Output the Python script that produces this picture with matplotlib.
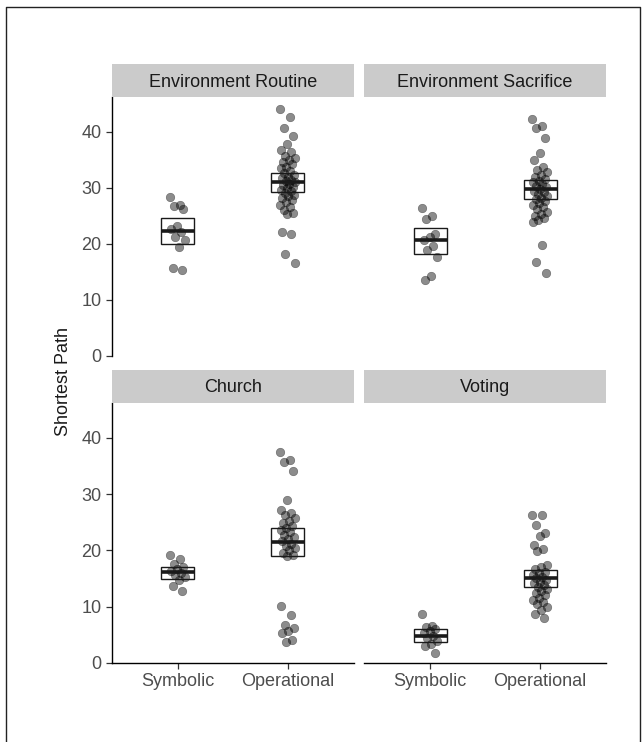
import numpy as np
import matplotlib.pyplot as plt
from matplotlib.patches import Rectangle
from matplotlib.lines import Line2D

plt.rcParams['font.family'] = ['Liberation Sans', 'DejaVu Sans']

panels = ['Environment Routine', 'Environment Sacrifice', 'Church', 'Voting']
conditions = ['Symbolic', 'Operational']
y_ticks = [0, 10, 20, 30, 40]

env_routine_sym = [28.4, 27.0, 26.7, 26.2, 23.3, 22.6, 22.1, 21.3, 20.7, 19.4, 15.8, 15.3]
env_routine_op = [44.1, 42.7, 40.7, 39.2, 37.9, 36.8, 36.5, 35.8, 35.3, 35.0, 34.6, 34.2,
                  33.8, 33.5, 33.0, 32.6, 32.3, 32.0, 31.8, 31.5, 31.2, 31.0, 30.8, 30.5,
                  30.2, 30.0, 29.7, 29.4, 29.1, 28.8, 28.5, 28.2, 27.9, 27.5, 27.0, 26.6,
                  26.0, 25.6, 25.3, 22.2, 21.7, 18.3, 16.6]
env_sacrifice_sym = [26.5, 25.0, 24.5, 21.8, 21.2, 20.8, 19.6, 19.0, 17.7, 14.2, 13.6]
env_sacrifice_op = [42.4, 41.1, 40.7, 39.0, 36.3, 35.0, 33.8, 33.3, 32.8, 32.4, 32.0, 31.6,
                    31.3, 31.0, 30.7, 30.4, 30.1, 29.8, 29.5, 29.2, 28.9, 28.6, 28.3, 28.0,
                    27.7, 27.4, 27.0, 26.6, 26.2, 25.8, 25.4, 25.0, 24.6, 24.2, 24.0, 19.9,
                    16.7, 14.8]
church_sym = [19.2, 18.4, 17.5, 17.0, 16.6, 16.3, 16.0, 15.6, 15.2, 14.8, 13.6, 12.7]
church_op = [37.5, 36.1, 35.7, 34.1, 29.0, 27.2, 26.6, 26.3, 25.8, 25.3, 24.8, 24.4,
             24.0, 23.6, 23.2, 22.8, 22.4, 22.0, 21.6, 21.2, 20.8, 20.4, 20.0, 19.6,
             19.2, 18.9, 10.1, 8.4, 6.7, 6.1, 5.6, 5.2, 4.0, 3.6]
voting_sym = [8.7, 6.6, 6.3, 6.0, 5.6, 5.2, 4.8, 4.4, 3.9, 3.4, 2.9, 1.7]
voting_op = [26.2, 26.2, 24.5, 23.0, 22.5, 20.9, 20.3, 19.8, 17.4, 17.0, 16.6, 16.2,
             15.9, 15.6, 15.3, 15.0, 14.7, 14.4, 14.1, 13.8, 13.5, 13.2, 12.8, 12.4,
             12.0, 11.6, 11.2, 10.8, 10.4, 10.0, 9.4, 8.7, 7.9]

# mean and interval of each crossbar (symbolic, operational)
box_mean = [[22.4, 31.1], [20.7, 29.8], [16.1, 21.5], [4.8, 15.0]]
box_low = [[20.0, 29.3], [18.3, 28.0], [14.9, 19.0], [3.6, 13.5]]
box_high = [[24.6, 32.7], [22.9, 31.4], [17.1, 23.9], [6.0, 16.5]]

points = [[env_routine_sym, env_routine_op], [env_sacrifice_sym, env_sacrifice_op],
          [church_sym, church_op], [voting_sym, voting_op]]

W, H = 644, 742


def px_axes(fig, x0, y0, x1, y1):
    return fig.add_axes([x0 / W, 1 - y1 / H, (x1 - x0) / W, (y1 - y0) / H])


def draw_panel(ax, k, left, bottom):
    for j in range(2):
        vals = np.array(points[k][j])
        n = len(vals)
        jit = ((np.arange(n) * 0.618034) % 1 - 0.5) * 0.14
        ax.scatter(j + 1 + jit, vals, s=38, color='black', alpha=0.45,
                   edgecolor='black', linewidth=0.4, zorder=2)
        ax.add_patch(Rectangle((j + 1 - 0.15, box_low[k][j]), 0.3,
                               box_high[k][j] - box_low[k][j], fill=False,
                               edgecolor='#1a1a1a', linewidth=1.0, zorder=3))
        ax.plot([j + 1 - 0.15, j + 1 + 0.15], [box_mean[k][j]] * 2,
                color='#1a1a1a', linewidth=2.6, solid_capstyle='butt', zorder=3)
    ax.set_xlim(0.4, 2.6)
    ax.set_ylim(0, 46.3)
    for s in ['top', 'right']:
        ax.spines[s].set_visible(False)
    ax.spines['left'].set_visible(left)
    ax.spines['bottom'].set_visible(bottom)
    ax.spines['left'].set_linewidth(1.0)
    ax.spines['bottom'].set_linewidth(1.0)
    ax.tick_params(colors='#333333', labelcolor='#4d4d4d', labelsize=13,
                   length=4, width=0.9)
    if left:
        ax.set_yticks(y_ticks)
    else:
        ax.set_yticks([])
    if bottom:
        ax.set_xticks([1, 2])
        ax.set_xticklabels(conditions)
    else:
        ax.set_xticks([])
    ax.patch.set_alpha(0)


def strip(fig, x0, y0, x1, y1, label):
    sa = px_axes(fig, x0, y0, x1, y1)
    sa.set_facecolor('#cbcbcb')
    sa.set_xticks([])
    sa.set_yticks([])
    for s in sa.spines.values():
        s.set_visible(False)
    sa.text(0.5, 0.45, label, ha='center', va='center', fontsize=13,
            color='#1a1a1a', transform=sa.transAxes)


fig = plt.figure(figsize=(6.44, 7.42), dpi=100)

cols = [(111.7, 353.7), (364.0, 606.0)]
rows = [(96.7, 356.0), (402.5, 662.7)]
for k, name in enumerate(panels):
    r, c = divmod(k, 2)
    ax = px_axes(fig, cols[c][0], rows[r][0], cols[c][1], rows[r][1])
    draw_panel(ax, k, left=(c == 0), bottom=(r == 1))
    strip(fig, cols[c][0], rows[r][0] - 32.5, cols[c][1], rows[r][0], name)

fig.text(64 / W, 1 - 381 / H, 'Shortest Path', rotation=90, ha='center',
         va='center', fontsize=13, color='#1a1a1a')

# outer frame of the figure
fig.add_artist(Line2D([6 / W, 6 / W, 640 / W, 640 / W], [0, 1 - 7 / H, 1 - 7 / H, 0],
                      transform=fig.transFigure, color='#222222', linewidth=1.0))

fig.savefig('out.png', dpi=100)
